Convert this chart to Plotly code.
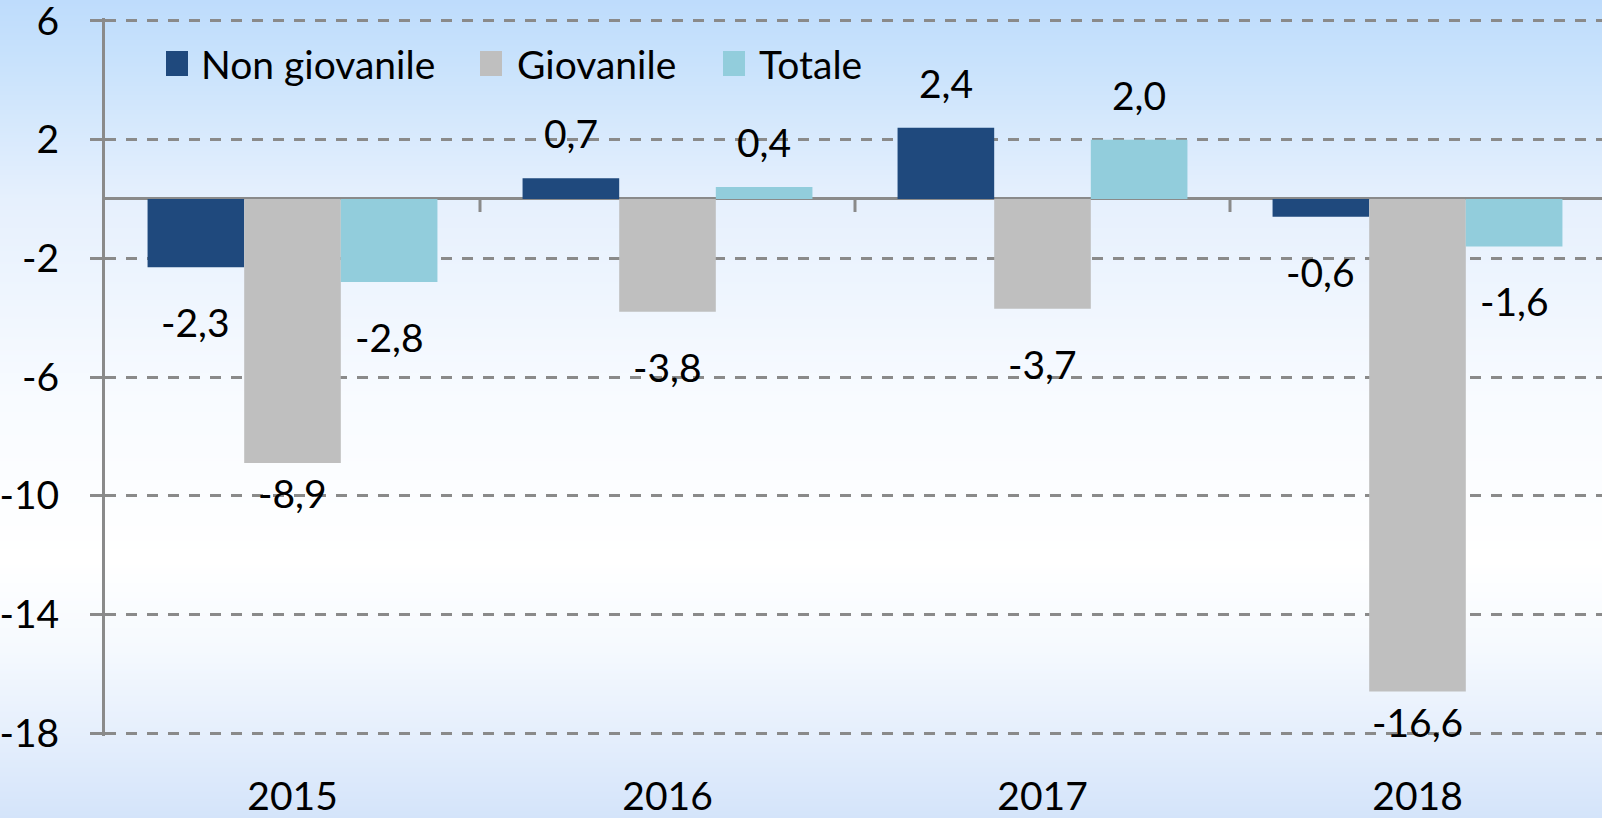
import base64, struct, zlib
import plotly.graph_objects as go

# ---------------- data ----------------
categories = ["2015", "2016", "2017", "2018"]
non_giovanile = [-2.3, 0.7, 2.4, -0.6]
giovanile = [-8.9, -3.8, -3.7, -16.6]
totale = [-2.8, 0.4, 2.0, -1.6]
series_names = ["Non giovanile", "Giovanile", "Totale"]
y_ticks = [6, 2, -2, -6, -10, -14, -18]

# ---------------- style ----------------
colors = ["#1f497d", "#bfbfbf", "#92cddc"]
FONT = "Lato, 'Open Sans', sans-serif"
FS = 39
GRID = "#8a8a8a"
W, H = 1602, 818
PAD = 0.1                      # y-range padding (data units)
UNIT = 712 / 24                # px per y unit
ML, MR = 105, 0
MT = int(round(21 - PAD * UNIT))
MB = int(round(85 - PAD * UNIT))
BARGAP = 0.227
PW, PH = W - ML - MR, H - MT - MB


def px2paper(px, py):
    return (px - ML) / PW, (H - MB - py) / PH


# ---------- background gradient image (pure python png) ----------
stops = [(0, (190, 220, 252)), (60, (200, 226, 252)), (200, (230, 240, 253)),
         (400, (248, 251, 255)), (560, (255, 255, 255)), (650, (245, 249, 254)),
         (740, (228, 238, 252)), (818, (212, 228, 250))]


def col_at(y):
    for (y0, c0), (y1, c1) in zip(stops[:-1], stops[1:]):
        if y0 <= y <= y1:
            t = (y - y0) / (y1 - y0)
            return tuple(int(round(a + (b - a) * t)) for a, b in zip(c0, c1))
    return stops[-1][1]


def make_png(h):
    raw = b"".join(b"\x00" + bytes(col_at(y)) for y in range(h))

    def chunk(tag, data):
        c = struct.pack(">I", len(data)) + tag + data
        return c + struct.pack(">I", zlib.crc32(tag + data) & 0xffffffff)

    png = b"\x89PNG\r\n\x1a\n"
    png += chunk(b"IHDR", struct.pack(">IIBBBBB", 1, h, 8, 2, 0, 0, 0))
    png += chunk(b"IDAT", zlib.compress(raw, 9))
    png += chunk(b"IEND", b"")
    return "data:image/png;base64," + base64.b64encode(png).decode()


fig = go.Figure()
all_series = [non_giovanile, giovanile, totale]
for name, vals, c in zip(series_names, all_series, colors):
    fig.add_trace(go.Bar(x=list(range(len(categories))), y=vals, name=name,
                         marker=dict(color=c, line=dict(width=0)),
                         showlegend=False))

# data labels
bar_w = (1 - BARGAP) / len(all_series)
special_shift = {(1, 0): -30, (1, 3): -30}
for si, vals in enumerate(all_series):
    for ci, v in enumerate(vals):
        xpos = ci + (si - (len(all_series) - 1) / 2) * bar_w
        shift = special_shift.get((si, ci), 45 if v > 0 else -55)
        fig.add_annotation(x=xpos, y=v, xref="x", yref="y",
                           text=f"{v:.1f}".replace(".", ","), showarrow=False,
                           yshift=shift, xanchor="center", yanchor="middle",
                           font=dict(family=FONT, size=FS, color="black"))

# category boundary ticks on zero line
tick_len = 13 / UNIT
for k in range(1, len(categories)):
    fig.add_shape(type="line", xref="x", yref="y", x0=k - 0.5, x1=k - 0.5,
                  y0=0, y1=-tick_len, line=dict(color=GRID, width=3))

# manual legend
legend_px = [(166, 199), (480, 515), (723, 757)]
for (sx, tx), name, c in zip(legend_px, series_names, colors):
    x0, y0 = px2paper(sx, 76)
    x1, y1 = px2paper(sx + 22, 51)
    fig.add_shape(type="rect", xref="paper", yref="paper", x0=x0, x1=x1,
                  y0=y0, y1=y1, fillcolor=c, line=dict(width=0))
    tx_p, ty_p = px2paper(tx, 64)
    fig.add_annotation(x=tx_p, y=ty_p, xref="paper", yref="paper", text=name,
                       showarrow=False, xanchor="left", yanchor="middle",
                       font=dict(family=FONT, size=FS, color="black"))

ix0, iy0 = px2paper(0, 0)
ix1, iy1 = px2paper(W, H)
fig.add_layout_image(source=make_png(H), xref="paper", yref="paper",
                     x=ix0, y=iy0, sizex=ix1 - ix0, sizey=iy0 - iy1,
                     sizing="stretch", xanchor="left", yanchor="top",
                     layer="below")

fig.update_layout(
    width=W, height=H, margin=dict(l=ML, r=MR, t=MT, b=MB, autoexpand=False),
    barmode="group", bargap=BARGAP, bargroupgap=0,
    paper_bgcolor="white", plot_bgcolor="rgba(0,0,0,0)",
    font=dict(family=FONT, size=FS, color="black"),
    showlegend=False,
    xaxis=dict(range=[-0.5, 3.492], tickmode="array", automargin=False,
               tickvals=list(range(len(categories))), ticktext=categories,
               showgrid=False, zeroline=False, showline=False, ticks="",
               ticklabelstandoff=34, ticklabeloverflow="allow",
               tickfont=dict(size=FS)),
    yaxis=dict(range=[-18 - PAD, 6 + PAD], tickmode="array", automargin=False,
               tickvals=y_ticks, ticktext=[str(t) for t in y_ticks],
               showgrid=True, gridcolor=GRID, gridwidth=3, griddash="11px,10px",
               zeroline=True, zerolinecolor=GRID, zerolinewidth=3,
               showline=True, linecolor=GRID, linewidth=3,
               ticks="outside", ticklen=12, tickwidth=3, tickcolor=GRID,
               ticklabelstandoff=23, ticklabeloverflow="allow",
               tickfont=dict(size=FS)),
)

fig.write_html(
    "out.html",
    config={"displayModeBar": False},
    post_script="document.body.style.margin='0';"
                "document.body.style.overflow='hidden';",
)
